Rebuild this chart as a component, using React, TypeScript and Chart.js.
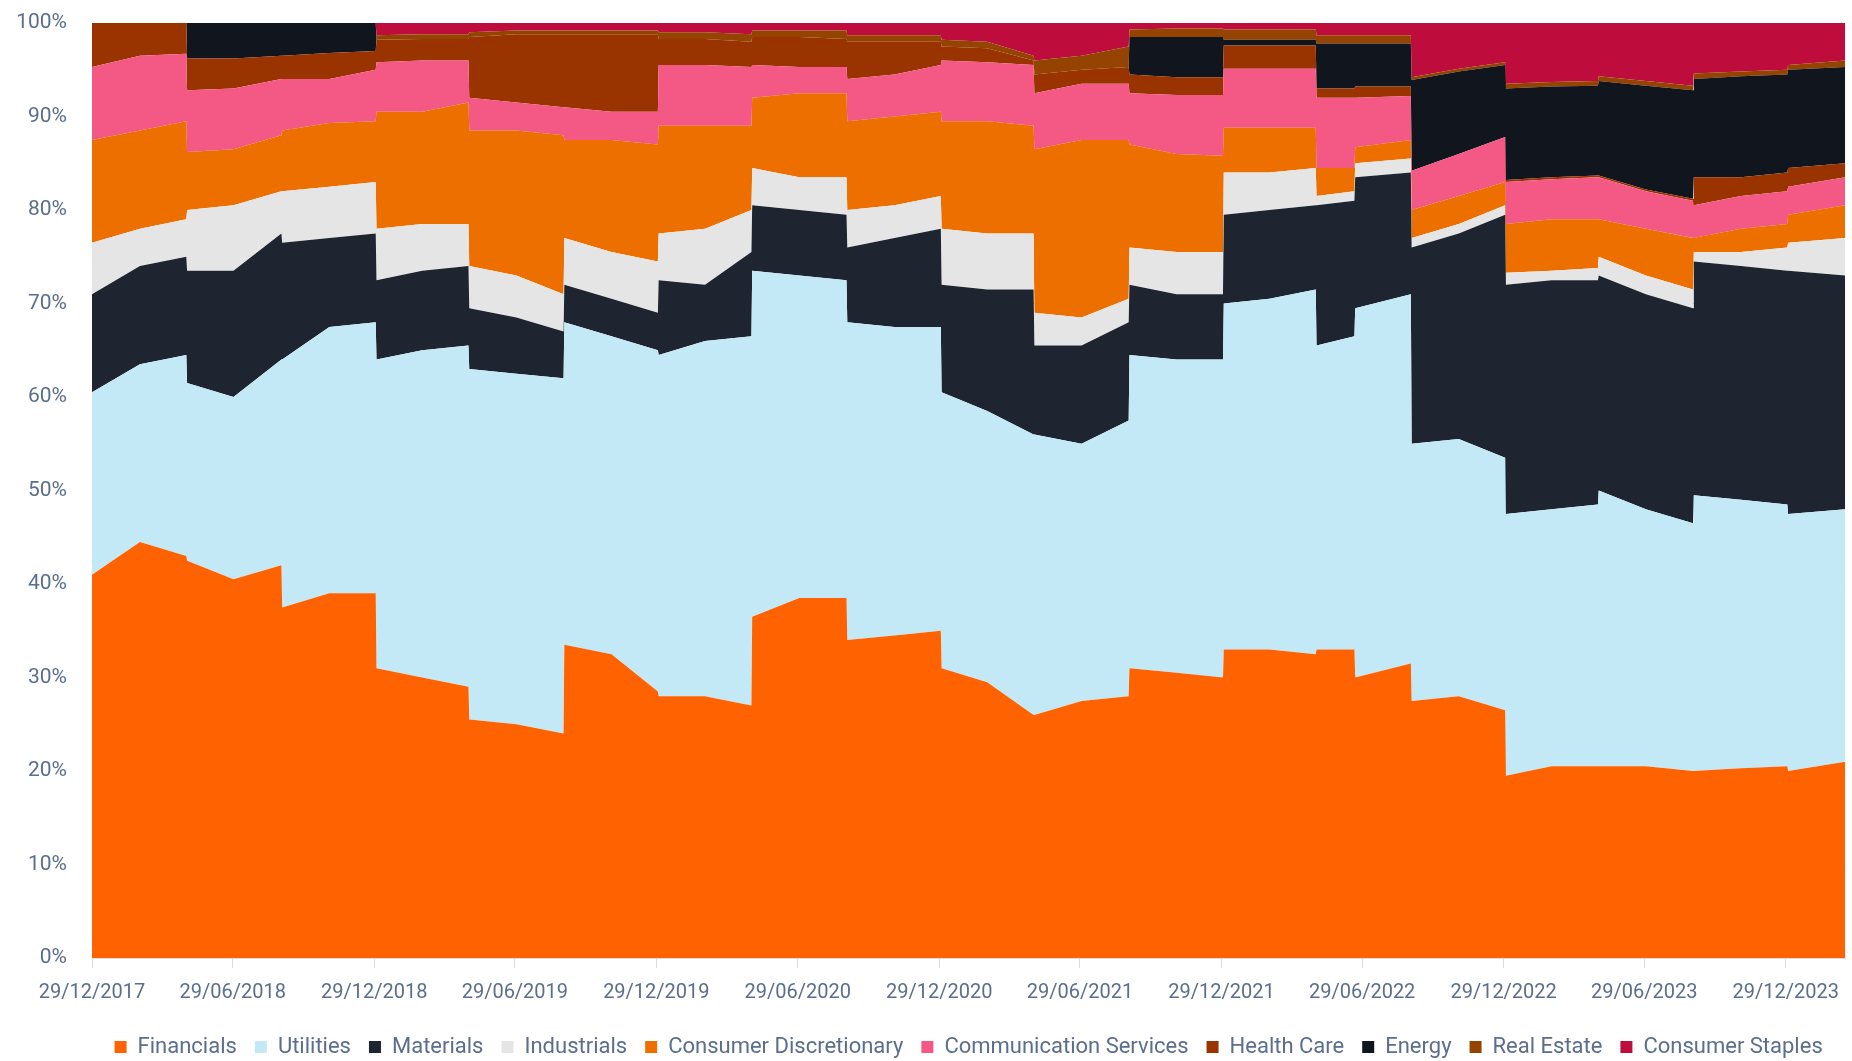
import { useEffect, useRef } from "react";
import { Chart, registerables } from "chart.js";

Chart.register(...registerables);

// Observation dates (rebalances at end of Apr / Aug / Dec)
const pointDates = [
  "2017-12-29", "2018-03-01", "2018-04-30",
  "2018-05-01", "2018-06-30", "2018-08-31",
  "2018-09-01", "2018-11-01", "2018-12-31",
  "2019-01-01", "2019-03-01", "2019-04-30",
  "2019-05-01", "2019-07-01", "2019-08-31",
  "2019-09-01", "2019-11-01", "2019-12-31",
  "2020-01-01", "2020-03-01", "2020-04-30",
  "2020-05-01", "2020-07-01", "2020-08-31",
  "2020-09-01", "2020-11-01", "2020-12-31",
  "2021-01-01", "2021-03-01", "2021-04-30",
  "2021-05-01", "2021-07-01", "2021-08-31",
  "2021-09-01", "2021-11-01", "2021-12-31",
  "2022-01-01", "2022-03-01", "2022-04-30",
  "2022-05-01", "2022-06-19", "2022-06-20", "2022-08-31",
  "2022-09-01", "2022-11-01", "2022-12-31",
  "2023-01-01", "2023-03-01", "2023-04-30",
  "2023-05-01", "2023-07-01", "2023-08-31",
  "2023-09-01", "2023-11-01", "2023-12-31",
  "2024-01-01", "2024-03-15",
];

const financials = [
  41, 44.5, 43,
  42.5, 40.5, 42,
  37.5, 39, 39,
  31, 30, 29,
  25.5, 25, 24,
  33.5, 32.5, 28.5,
  28, 28, 27,
  36.5, 38.5, 38.5,
  34, 34.5, 35,
  31, 29.5, 26,
  26, 27.5, 28,
  31, 30.5, 30,
  33, 33, 32.5,
  33, 33, 30, 31.5,
  27.5, 28, 26.5,
  19.5, 20.5, 20.5,
  20.5, 20.5, 20,
  20, 20.3, 20.5,
  20, 21,
];
const utilities = [
  19.5, 19, 21.5,
  19, 19.5, 22,
  26.5, 28.5, 29,
  33, 35, 36.5,
  37.5, 37.5, 38,
  34.5, 34, 36.5,
  36.5, 38, 39.5,
  37, 34.5, 34,
  34, 33, 32.5,
  29.5, 29, 30,
  30, 27.5, 29.5,
  33.5, 33.5, 34,
  37, 37.5, 39,
  32.5, 33.5, 39.5, 39.5,
  27.5, 27.5, 27,
  28, 27.5, 28,
  29.5, 27.5, 26.5,
  29.5, 28.7, 28,
  27.5, 27,
];
const materials = [
  10.5, 10.5, 10.5,
  12, 13.5, 13.5,
  12.5, 9.5, 9.5,
  8.5, 8.5, 8.5,
  6.5, 6, 5,
  4, 4, 4,
  8, 6, 9,
  7, 7, 7,
  8, 9.5, 10.5,
  11.5, 13, 15.5,
  9.5, 10.5, 10.5,
  7.5, 7, 7,
  9.5, 9.5, 9,
  15, 14.5, 14, 13,
  21, 22, 26,
  24.5, 24.5, 24,
  23, 23, 23,
  25, 25, 25,
  26, 25,
];
const industrials = [
  5.5, 4, 4,
  6.5, 7, 4.5,
  5.5, 5.5, 5.5,
  5.5, 5, 4.5,
  4.5, 4.5, 4,
  5, 5, 5.5,
  5, 6, 4.5,
  4, 3.5, 4,
  4, 3.5, 3.5,
  6, 6, 6,
  3.5, 3, 2.5,
  4, 4.5, 4.5,
  4.5, 4, 4,
  1, 1, 1.5, 1.5,
  1, 1, 1,
  1.3, 1, 1.3,
  2, 2, 2,
  1, 1.5, 2.5,
  3, 4,
];
const consumerDiscretionary = [
  11, 10.5, 10.5,
  6.2, 6, 6,
  6.5, 6.8, 6.5,
  12.5, 12, 13,
  14.5, 15.5, 17,
  10.5, 12, 12.5,
  11.5, 11, 9,
  7.5, 9, 9,
  9.5, 9.5, 9,
  11.5, 12, 11.5,
  17.5, 19, 17,
  11, 10.5, 10.3,
  4.8, 4.8, 4.3,
  3, 2.5, 1.7, 2,
  3, 3, 2.5,
  5.2, 5.5, 5.2,
  4, 5, 5.5,
  1.5, 2.5, 2.5,
  3, 3.5,
];
const communicationServices = [
  7.8, 8, 7.2,
  6.6, 6.5, 6,
  5.5, 4.7, 5.5,
  5.3, 5.5, 4.5,
  3.5, 3, 3,
  3.5, 3, 3.5,
  6.5, 6.5, 6.3,
  3.5, 2.8, 2.8,
  4.5, 4.5, 5,
  6.5, 6.3, 6.5,
  6, 6, 6,
  5.5, 6.3, 6.5,
  6.3, 6.3, 6.3,
  7.5, 7.5, 5.3, 4.7,
  4.2, 4.5, 4.8,
  4.5, 4.3, 4.5,
  4.5, 4, 4,
  3.5, 3.5, 3.5,
  3, 3,
];
const healthCare = [
  4.7, 3.5, 3.3,
  3.4, 3.2, 2.5,
  2.5, 2.8, 2,
  2.4, 2.3, 2.3,
  6.5, 7.3, 7.8,
  7.8, 8.3, 8.3,
  2.8, 2.8, 2.7,
  3, 3.2, 3,
  4, 3.5, 2.5,
  1.5, 1.5, 0.5,
  2, 1.5, 1.8,
  2, 1.9, 1.9,
  2.5, 2.5, 2.5,
  1, 1, 1.2, 1,
  0, 0, 0,
  0.2, 0.2, 0.2,
  0.2, 0.2, 0.2,
  3, 2, 2,
  2, 1.5,
];
const energy = [
  0, 0, 0,
  3.8, 3.8, 3.5,
  3.5, 3.2, 3,
  0, 0, 0,
  0, 0, 0,
  0, 0, 0,
  0, 0, 0,
  0, 0, 0,
  0, 0, 0,
  0, 0, 0,
  0, 0, 0,
  4, 4.3, 4.3,
  0.6, 0.6, 0.6,
  4.8, 4.8, 4.6, 4.6,
  9.7, 8.8, 7.7,
  9.8, 9.7, 9.6,
  10.1, 11.1, 11.6,
  10.5, 10.8, 10.5,
  10.5, 10.3,
];
const realEstate = [
  0, 0, 0,
  0, 0, 0,
  0, 0, 0,
  0.5, 0.5, 0.5,
  0.5, 0.4, 0.4,
  0.4, 0.4, 0.4,
  0.7, 0.7, 0.8,
  0.7, 0.7, 0.9,
  0.7, 0.7, 0.7,
  0.7, 0.7, 0.5,
  1.5, 1.5, 2.2,
  0.8, 0.9, 0.9,
  1.1, 1.1, 1.1,
  0.9, 0.9, 0.9, 0.9,
  0.3, 0.3, 0.3,
  0.5, 0.5, 0.5,
  0.5, 0.5, 0.5,
  0.6, 0.5, 0.5,
  0.5, 0.7,
];
const consumerStaples = [
  0, 0, 0,
  0, 0, 0,
  0, 0, 0,
  1.3, 1.2, 1.2,
  1, 0.8, 0.8,
  0.8, 0.8, 0.8,
  1, 1, 1.2,
  0.8, 0.8, 0.8,
  1.3, 1.3, 1.3,
  1.8, 2, 3.5,
  4, 3.5, 2.5,
  0.7, 0.6, 0.6,
  0.7, 0.7, 0.7,
  1.3, 1.3, 1.3, 1.3,
  5.8, 4.9, 4.2,
  6.5, 6.3, 6.2,
  5.7, 6.2, 6.7,
  5.4, 5.2, 5,
  4.5, 4,
];

const seriesNames = [
  "Financials", "Utilities", "Materials", "Industrials", "Consumer Discretionary",
  "Communication Services", "Health Care", "Energy", "Real Estate", "Consumer Staples",
];
const seriesValues = [
  financials, utilities, materials, industrials, consumerDiscretionary,
  communicationServices, healthCare, energy, realEstate, consumerStaples,
];
const seriesColors = [
  "#ff6200", "#c3e9f6", "#1e2530", "#e5e5e5", "#ec6f00",
  "#f45884", "#993300", "#11161e", "#944400", "#be0d3d",
];

const tickDates = [
  "2017-12-29", "2018-06-29", "2018-12-29", "2019-06-29", "2019-12-29",
  "2020-06-29", "2020-12-29", "2021-06-29", "2021-12-29", "2022-06-29",
  "2022-12-29", "2023-06-29", "2023-12-29",
];
const tickLabels = [
  "29/12/2017", "29/06/2018", "29/12/2018", "29/06/2019", "29/12/2019",
  "29/06/2020", "29/12/2020", "29/06/2021", "29/12/2021", "29/06/2022",
  "29/12/2022", "29/06/2023", "29/12/2023",
];
const yTicks = [0, 10, 20, 30, 40, 50, 60, 70, 80, 90, 100];

const TEXT = "#5b6e8c";
const FONT = "Roboto";

const t0 = Date.parse(pointDates[0]);
const toDay = (s: string) => Math.round((Date.parse(s) - t0) / 86400000);

export default function App() {
  const ref = useRef<HTMLCanvasElement | null>(null);

  useEffect(() => {
    document.body.style.margin = "0";
    document.body.style.overflow = "hidden";
    const days = pointDates.map(toDay);
    const tickDays = tickDates.map(toDay);
    const chart = new Chart(ref.current as HTMLCanvasElement, {
      type: "line",
      data: {
        datasets: seriesNames.map((name, si) => ({
          label: name,
          data: seriesValues[si].map((v, i) => ({ x: days[i], y: v })),
          backgroundColor: seriesColors[si],
          borderColor: "transparent",
          borderWidth: 0,
          pointRadius: 0,
          pointHoverRadius: 0,
          tension: 0,
          fill: si === 0 ? "origin" : "-1",
        })),
      },
      options: {
        animation: false,
        responsive: true,
        maintainAspectRatio: false,
        layout: { padding: { top: 23, right: 0, bottom: 0, left: 0 } },
        scales: {
          x: {
            type: "linear",
            min: 0,
            max: days[days.length - 1],
            grid: { drawOnChartArea: false, drawTicks: true, tickLength: 10, color: "#d9dde3" },
            border: { color: "#d9dde3" },
            afterBuildTicks: (axis: any) => {
              axis.ticks = tickDays.map((v) => ({ value: v }));
            },
            ticks: {
              autoSkip: false,
              maxRotation: 0,
              padding: 13,
              color: TEXT,
              font: { family: FONT, size: 20 },
              callback: (value: any) => {
                const i = tickDays.indexOf(Number(value));
                return i >= 0 ? tickLabels[i] : "";
              },
            },
          },
          y: {
            stacked: true,
            min: 0,
            max: 100,
            afterBuildTicks: (axis: any) => {
              axis.ticks = yTicks.map((v) => ({ value: v }));
            },
            afterFit: (scale: any) => {
              scale.width = 92;
              scale.paddingTop = 0;
              scale.paddingBottom = 0;
            },
            grid: { drawTicks: false, color: "#d9dde3" },
            border: { display: false },
            ticks: {
              padding: 25,
              color: TEXT,
              font: { family: FONT, size: 21 },
              callback: (value: any) => `${value}%`,
            },
          },
        },
        plugins: {
          legend: {
            position: "bottom",
            fullSize: false,
            labels: {
              boxWidth: 12,
              boxHeight: 12,
              padding: 18,
              color: TEXT,
              font: { family: FONT, size: 22 },
            },
          },
          tooltip: { enabled: false },
        },
      },
    });
    return () => chart.destroy();
  }, []);

  return (
    <div style={{ width: 1852, height: 1068, position: "relative" }}>
      <canvas ref={ref} />
    </div>
  );
}
